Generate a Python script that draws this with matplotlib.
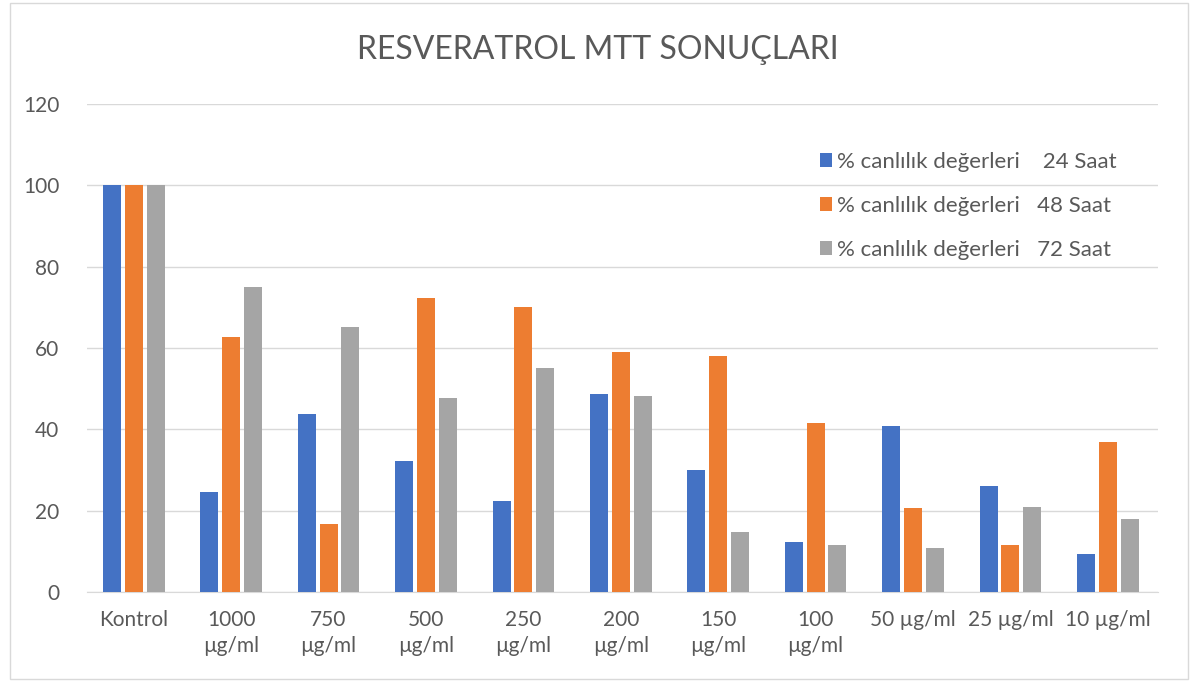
import numpy as np
import matplotlib.pyplot as plt
from matplotlib.patches import Rectangle

categories = ['Kontrol', '1000\nµg/ml', '750\nµg/ml', '500\nµg/ml', '250\nµg/ml',
              '200\nµg/ml', '150\nµg/ml', '100\nµg/ml', '50 µg/ml', '25 µg/ml', '10 µg/ml']
saat_24 = [100, 24.6, 43.8, 32.2, 22.4, 48.7, 30.0, 12.3, 40.8, 26.0, 9.3]
saat_48 = [100, 62.7, 16.7, 72.3, 70.0, 59.0, 58.0, 41.5, 20.6, 11.6, 37.0]
saat_72 = [100, 75.0, 65.2, 47.7, 55.0, 48.2, 14.8, 11.6, 10.8, 21.0, 18.0]
labels = ['% canlılık değerleri    24 Saat',
          '% canlılık değerleri   48 Saat',
          '% canlılık değerleri   72 Saat']

plt.rcParams['font.family'] = ['Lato', 'DejaVu Sans']
text_color = '#595959'

fig = plt.figure(figsize=(11.95, 6.82), dpi=100)
ax = fig.add_axes([0.0728, 0.132, 0.8966, 0.7155])

x = np.arange(len(categories))
step = 0.224
colors = ['#4472C4', '#ED7D31', '#A5A5A5']
for i, (vals, c, lab) in enumerate(zip([saat_24, saat_48, saat_72], colors, labels)):
    ax.bar(x + (i - 1) * step - 0.02, vals, 0.184, color=c, label=lab, zorder=3)

ax.set_ylim(0, 120)
ax.set_xlim(-0.5, len(categories) - 0.5)
ax.set_yticks(range(0, 121, 20))
ax.set_xticks(x - 0.02)
ax.set_xticklabels(categories, fontsize=15, color=text_color, linespacing=1.35, va='top')
ax.tick_params(axis='y', labelsize=15, labelcolor=text_color, length=0, pad=20)
ax.tick_params(axis='x', length=0, pad=13)
ax.grid(axis='y', color='#D9D9D9', linewidth=1, zorder=0)
for s in ['top', 'right', 'left']:
    ax.spines[s].set_visible(False)
ax.spines['bottom'].set_color('#D9D9D9')

fig.suptitle('RESVERATROL MTT SONUÇLARI', fontsize=23, color=text_color, x=0.5, y=0.948)

leg = ax.legend(loc='upper left', bbox_to_anchor=(0.665, 0.943), frameon=False,
                fontsize=16, labelspacing=1.08, handlelength=0.55, handleheight=0.55,
                handletextpad=0.25)
for t in leg.get_texts():
    t.set_color(text_color)

fig.patches.append(Rectangle((0.008, 0.005), 0.986, 0.99, transform=fig.transFigure,
                             fill=False, edgecolor='#D9D9D9', linewidth=1))

fig.savefig('out.png', dpi=100)
